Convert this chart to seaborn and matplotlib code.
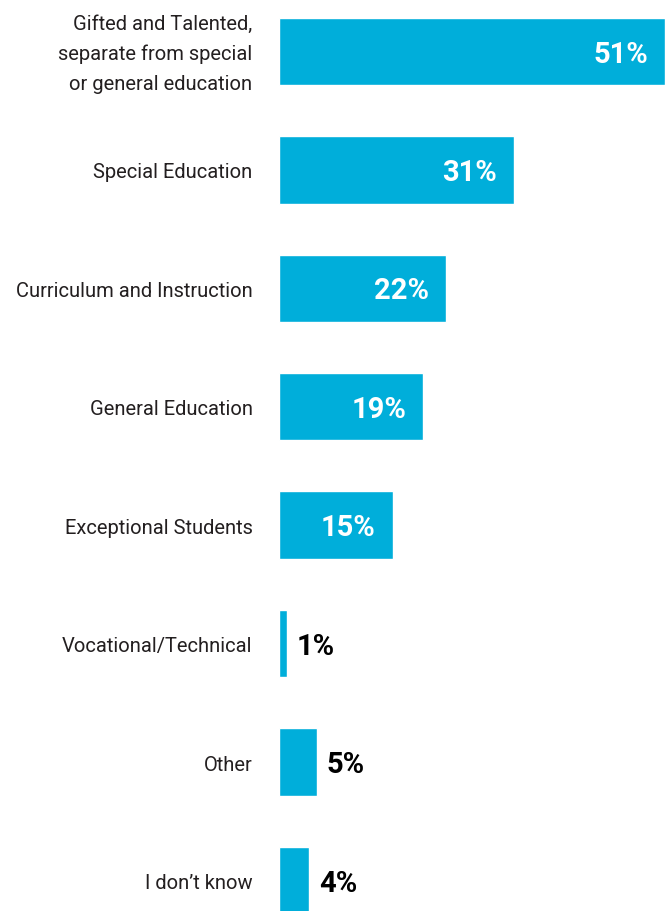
import matplotlib
matplotlib.use("Agg")
import matplotlib.pyplot as plt
import seaborn as sns
import pandas as pd

categories = [
    "Gifted and Talented,\nseparate from special\nor general education",
    "Special Education",
    "Curriculum and Instruction",
    "General Education",
    "Exceptional Students",
    "Vocational/Technical",
    "Other",
    "I don\u2019t know",
]
values = [51, 31, 22, 19, 15, 1, 5, 4]

df = pd.DataFrame({"category": categories, "value": values})

sns.set_theme(style="white")
plt.rcParams["font.family"] = ["Roboto", "DejaVu Sans"]

BAR_COLOR = "#00AEDA"

fig = plt.figure(figsize=(6.65, 9.12), dpi=100)
ax = fig.add_axes([279 / 665, 0, 386 / 665, 1])

sns.barplot(data=df, x="value", y="category", orient="h", color=BAR_COLOR,
            saturation=1, width=0.57, ax=ax)

ax.set_xlim(0, 51)
ax.set_ylim(7.258, -0.443)
ax.set_xlabel("")
ax.set_ylabel("")
ax.set_xticks([])
ax.set_yticks([])
for s in ax.spines.values():
    s.set_visible(False)

# category labels to the left of the bars, right-aligned
for i, cat in enumerate(categories):
    ax.annotate(cat, xy=(0, i), xycoords="data", xytext=(-19, -1.5),
                textcoords="offset points", ha="right", va="center",
                fontsize=14.5, color="#231F20", linespacing=1.7)

# value labels: white inside long bars, black beyond short ones
for i, v in enumerate(values):
    if v >= 15:
        ax.annotate(f"{v}%", xy=(v, i), xytext=(-12, -1.5), textcoords="offset points",
                    ha="right", va="center", fontsize=21, fontweight="bold", color="white")
    else:
        ax.annotate(f"{v}%", xy=(v, i), xytext=(7, -1.5), textcoords="offset points",
                    ha="left", va="center", fontsize=21, fontweight="bold", color="black")

fig.savefig("out.png", dpi=100)
